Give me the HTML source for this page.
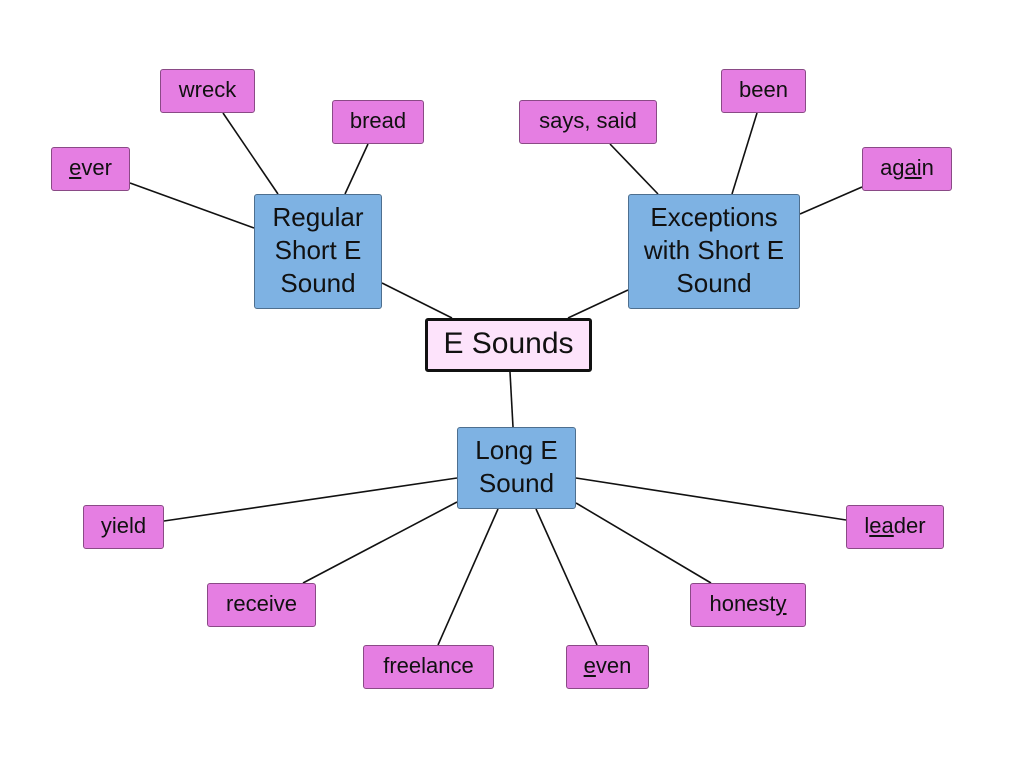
<!DOCTYPE html>
<html><head><style>
body{margin:0;width:1024px;height:768px;background:#fff;position:relative;font-family:"Liberation Sans",sans-serif;overflow:hidden}
.b{position:absolute;box-sizing:border-box;display:flex;align-items:center;justify-content:center;text-align:center;color:#111;border-radius:3px;padding-bottom:2px}
.p{background:#e57ee2;border:1.5px solid #8a4a86;font-size:22px}
.u{background:#7eb2e3;border:1.5px solid #4e6f8f;font-size:26px;line-height:33px}
svg{position:absolute;left:0;top:0}
</style></head><body>
<svg width="1024" height="768"><g stroke="#111" stroke-width="1.6">
<line x1="130" y1="183" x2="254" y2="228"/><line x1="223" y1="113" x2="278" y2="194"/><line x1="368" y1="144" x2="345" y2="194"/><line x1="382" y1="283" x2="452" y2="318"/>
<line x1="628" y1="290" x2="568" y2="318"/><line x1="610" y1="144" x2="658" y2="194"/><line x1="757" y1="113" x2="732" y2="194"/><line x1="862" y1="187" x2="800" y2="214"/>
<line x1="510" y1="372" x2="513" y2="427"/>
<line x1="164" y1="521" x2="457" y2="478"/><line x1="303" y1="583" x2="457" y2="502"/><line x1="438" y1="645" x2="498" y2="509"/><line x1="597" y1="645" x2="536" y2="509"/><line x1="711" y1="583" x2="576" y2="503"/><line x1="846" y1="520" x2="576" y2="478"/>
</g></svg>
<div class="b p" style="left:51px;top:147px;width:79px;height:44px"><span><u>e</u>ver</span></div>
<div class="b p" style="left:160px;top:69px;width:95px;height:44px">wreck</div>
<div class="b p" style="left:332px;top:100px;width:92px;height:44px">bread</div>
<div class="b u" style="left:254px;top:194px;width:128px;height:115px">Regular<br>Short E<br>Sound</div>
<div class="b" style="left:425px;top:318px;width:167px;height:54px;background:#fde3fb;border:3px solid #111;font-size:30px">E Sounds</div>
<div class="b u" style="left:628px;top:194px;width:172px;height:115px">Exceptions<br>with Short E<br>Sound</div>
<div class="b p" style="left:519px;top:100px;width:138px;height:44px">says, said</div>
<div class="b p" style="left:721px;top:69px;width:85px;height:44px">been</div>
<div class="b p" style="left:862px;top:147px;width:90px;height:44px"><span>ag<u>ai</u>n</span></div>
<div class="b u" style="left:457px;top:427px;width:119px;height:82px">Long E<br>Sound</div>
<div class="b p" style="left:83px;top:505px;width:81px;height:44px">yield</div>
<div class="b p" style="left:207px;top:583px;width:109px;height:44px">receive</div>
<div class="b p" style="left:363px;top:645px;width:131px;height:44px">freelance</div>
<div class="b p" style="left:566px;top:645px;width:83px;height:44px"><span><u>e</u>ven</span></div>
<div class="b p" style="left:690px;top:583px;width:116px;height:44px"><span>honest<u>y</u></span></div>
<div class="b p" style="left:846px;top:505px;width:98px;height:44px"><span>l<u>ea</u>der</span></div>
</body></html>
